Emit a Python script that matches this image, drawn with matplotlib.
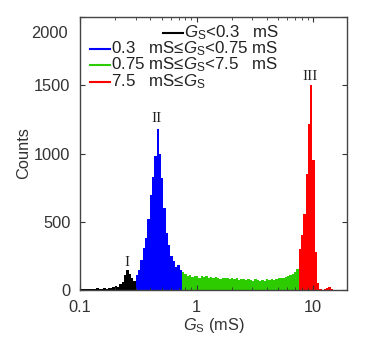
import matplotlib
matplotlib.use("Agg")
import matplotlib.pyplot as plt
import numpy as np

plt.rcParams['font.family'] = ['Liberation Sans', 'DejaVu Sans']
plt.rcParams['mathtext.fontset'] = 'custom'
plt.rcParams['mathtext.rm'] = 'Liberation Sans'
plt.rcParams['mathtext.it'] = 'Liberation Sans:italic'

# conductance histogram, counts per log-spaced bin in each range
black_range = (0.1, 0.3)
black_counts = [5, 8, 6, 10, 7, 5, 9, 12, 8, 10, 12, 10, 15, 18, 25, 30,
                22, 45, 60, 110, 150, 120, 85, 70]

blue_range = (0.3, 0.75)
blue_counts = [110, 150, 220, 310, 380, 520, 700, 830, 980, 1180,
               1000, 820, 600, 420, 330, 250, 210, 170, 185, 150]

green_range = (0.75, 7.5)
green_counts = [130, 115, 100, 110, 95, 105, 100, 90, 105, 95,
                100, 88, 95, 85, 98, 90, 82, 92, 85, 88,
                80, 85, 78, 88, 75, 82, 78, 72, 80, 75,
                70, 78, 72, 68, 75, 70, 78, 72, 80, 76,
                82, 85, 90, 88, 95, 100, 110, 120, 135, 155]

red_range = (7.5, 15.5)
red_counts = [300, 400, 560, 850, 1220, 1500, 950, 280, 50, 5,
              3, 8, 15, 20, 10, 3]

colors = ['black', '#0000ff', '#2ccc00', '#ff0000']
legend_labels = [r'$G_\mathrm{S}$<0.3   mS',
                 r'0.3   mS≤$G_\mathrm{S}$<0.75 mS',
                 r'0.75 mS≤$G_\mathrm{S}$<7.5   mS',
                 r'7.5   mS≤$G_\mathrm{S}$']

fig = plt.figure(figsize=(3.83, 3.47), dpi=100)
ax = fig.add_axes([0.209, 0.164, 0.697, 0.787])

segments = [(black_range, black_counts), (blue_range, blue_counts),
            (green_range, green_counts), (red_range, red_counts)]
for (rng, counts), c in zip(segments, colors):
    edges = np.geomspace(rng[0], rng[1], len(counts) + 1)
    ax.bar(edges[:-1], counts, width=np.diff(edges), align='edge',
           color=c, edgecolor='none')

ax.set_xscale('log')
ax.set_xlim(0.1, 19.5)
ax.set_ylim(0, 2000)
ax.set_xticks([0.1, 1, 10])
ax.set_xticklabels(['0.1', '1', '10'])
ax.set_yticks([0, 500, 1000, 1500, 2000])
ax.set_yticklabels(['0', '500', '1000', '1500', ''])
ax.annotate('2000', xy=(0, 0.938), xycoords='axes fraction',
            xytext=(-8.5, 0), textcoords='offset points',
            ha='right', va='center', fontsize=11.8, color='#333333')

ax.tick_params(which='both', direction='in', top=True, right=True,
               labelsize=11.8, labelcolor='#333333', color='#333333')
ax.tick_params(which='major', length=3.5, pad=7)
ax.tick_params(which='minor', length=2)
for s in ax.spines.values():
    s.set_color('#444444')
    s.set_linewidth(1.0)

ax.set_ylabel('Counts', fontsize=11.8, color='#333333', labelpad=2)
ax.set_xlabel(r'$G_\mathrm{S}$ (mS)', fontsize=11.8, color='#333333', labelpad=1)

# legend entries drawn by hand
rows = [0.941, 0.883, 0.824, 0.762]
line_x = [(0.311, 0.386), (0.037, 0.112), (0.037, 0.112), (0.037, 0.112)]
for y, (x0, x1), c, lab in zip(rows, line_x, colors, legend_labels):
    ax.plot([x0, x1], [y, y], color=c, lw=1.5, transform=ax.transAxes,
            clip_on=False)
    ax.text(x1 + 0.004, y, lab, transform=ax.transAxes, ha='left',
            va='center', fontsize=12.2, color='#222222')

# peak labels
peak_font = dict(family='Liberation Serif', fontsize=11, ha='center',
                 va='center', color='#222222')
ax.text(0.252, 200, 'I', **peak_font)
ax.text(0.455, 1257, 'II', **peak_font)
ax.text(9.42, 1566, 'III', **peak_font)

fig.savefig('out.png', dpi=100)
